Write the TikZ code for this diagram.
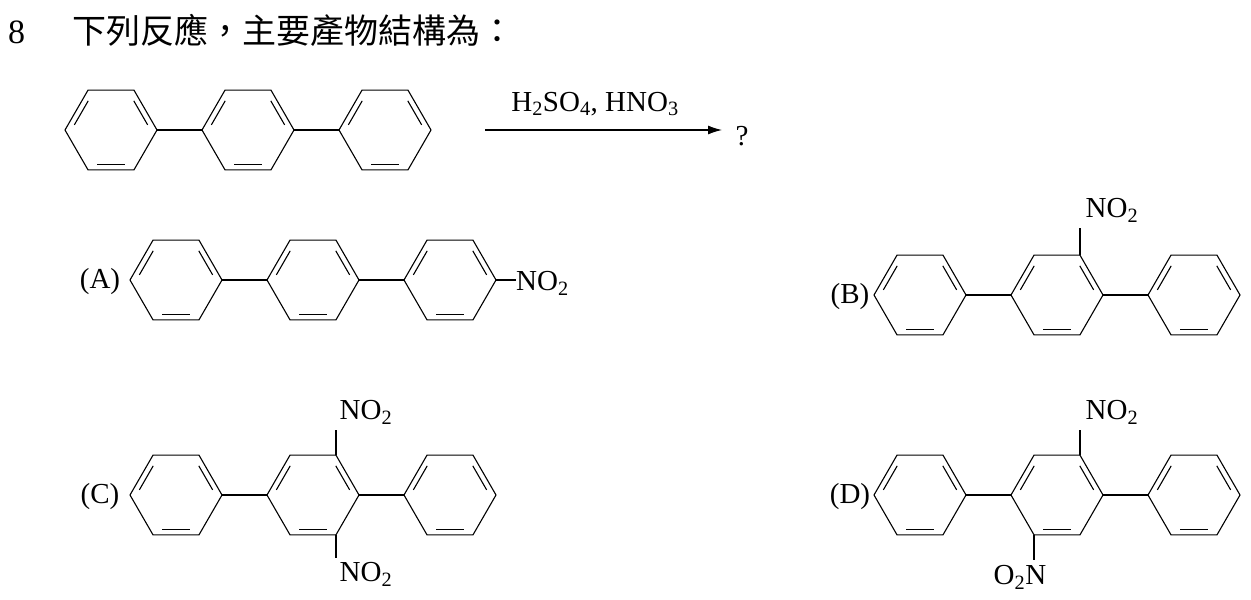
\documentclass[tikz,border=0pt]{standalone}
\usepackage{fontspec}
\setmainfont{Liberation Serif}
\newfontfamily\cjk{Noto Sans CJK TC}
\usetikzlibrary{arrows.meta,calc}
\newcommand\benz[2]{%
  \draw[bond] (#1,#2) ++(0:46) -- ++(120:46) -- ++(180:46) -- ++(240:46) -- ++(300:46) -- ++(0:46) -- cycle;
  \foreach \a in {60,180,300}{\draw[bond] ($(#1,#2)+(\a+8:37)$) -- ($(#1,#2)+(\a+52:37)$);}
}
\newcommand\sbs[1]{\textsubscript{#1}}
\tikzset{bond/.style={line width=1.1pt},lab/.style={font=\fontsize{29}{31}\selectfont,inner sep=0pt}}
\begin{document}
\begin{tikzpicture}[x=1pt,y=-1pt]
\useasboundingbox (0,0) rectangle (1251,600);
\node[lab,anchor=west,font=\fontsize{34}{36}\selectfont] (n8) at (8,32) {8};
\node[lab,anchor=west] (q) at (72,30) {\cjk\fontsize{34}{36}\selectfont 下列反應，主要產物結構為：};
% reactant
\benz{111}{130}\benz{248}{130}\benz{385}{130}
\draw[bond] (157,130)--(202,130); \draw[bond] (294,130)--(339,130);
\coordinate (a1) at (485,130); \coordinate (a2) at (722,130);
\draw[bond,-{Latex[length=14pt,width=9pt]}] (a1)--(a2);
\node[lab] (cond) at (595,104) {H\sbs{2}SO\sbs{4}, HNO\sbs{3}};
\node[lab] (qm) at (742,136) {?};
% A
\node[lab] (A) at (100,282) {(A)};
\benz{176}{280}\benz{313}{280}\benz{450}{280}
\draw[bond] (222,280)--(267,280); \draw[bond] (359,280)--(404,280); \draw[bond] (496,280)--(516,280);
\node[lab,anchor=west] (an) at (516,283) {NO\sbs{2}};
% B
\node[lab] (B) at (850,297) {(B)};
\benz{920}{295}\benz{1057}{295}\benz{1194}{295}
\draw[bond] (966,295)--(1011,295); \draw[bond] (1103,295)--(1148,295);
\draw[bond] (1080,255)--(1080,228);
\node[lab] (bn) at (1112,210) {NO\sbs{2}};
% C
\node[lab] (C) at (100,497) {(C)};
\benz{176}{495}\benz{313}{495}\benz{450}{495}
\draw[bond] (222,495)--(267,495); \draw[bond] (359,495)--(404,495);
\draw[bond] (336,455)--(336,430); \draw[bond] (336,535)--(336,558);
\node[lab] (cn1) at (366,412) {NO\sbs{2}};
\node[lab] (cn2) at (366,574) {NO\sbs{2}};
% D
\node[lab] (D) at (850,497) {(D)};
\benz{920}{495}\benz{1057}{495}\benz{1194}{495}
\draw[bond] (966,495)--(1011,495); \draw[bond] (1103,495)--(1148,495);
\draw[bond] (1080,455)--(1080,430); \draw[bond] (1034,535)--(1034,560);
\node[lab] (dn1) at (1112,412) {NO\sbs{2}};
\node[lab] (dn2) at (1020,577) {O\sbs{2}N};
\end{tikzpicture}
\end{document}
